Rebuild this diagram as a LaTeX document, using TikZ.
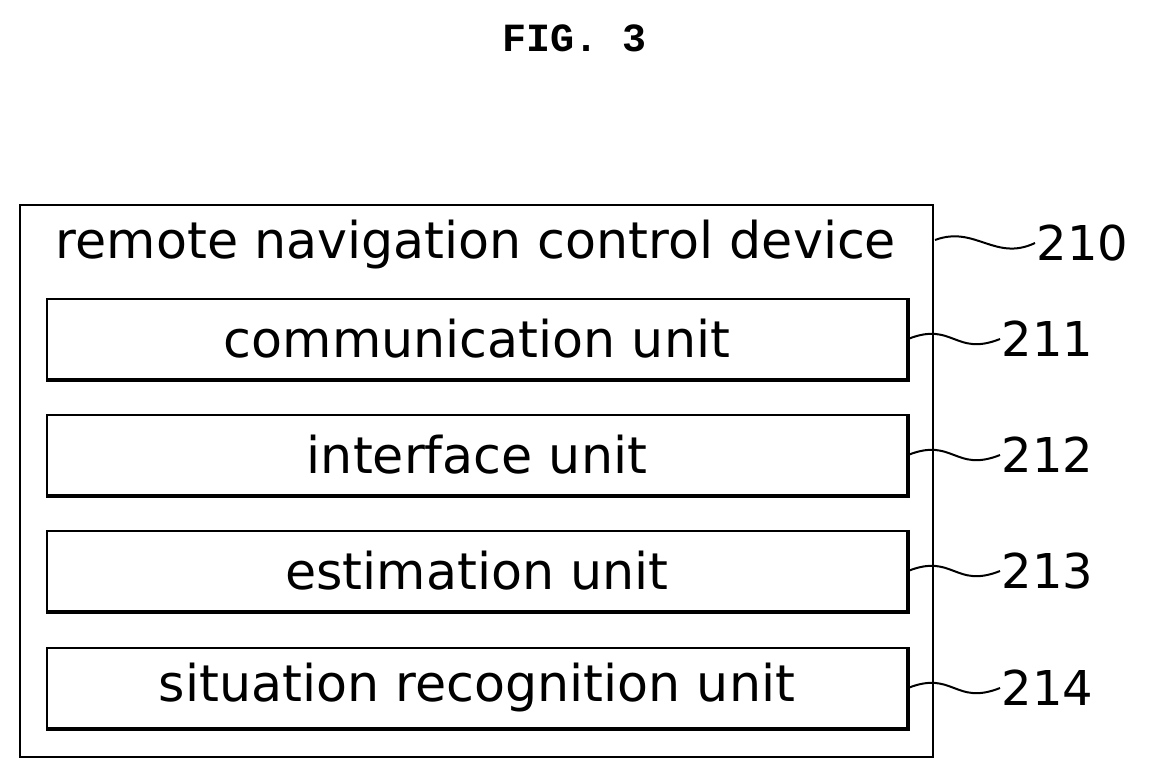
\documentclass[tikz,border=0pt]{standalone}
\usepackage{fontspec}
\setmainfont{DejaVu Sans}
\newfontfamily\figfont{Liberation Mono}
\tikzset{every picture/.style={line width=0.75pt}}
\tikzset{unit/.style={draw,line width=1.5pt,minimum width=645pt,minimum height=60pt,inner sep=0pt,font=\fontsize{38}{40}\selectfont},
  refnum/.style={anchor=west,inner sep=0.75pt,font=\fontsize{36}{38}\selectfont}}
\begin{document}
\begin{tikzpicture}[x=0.75pt,y=0.75pt,yscale=-1,xscale=1]
\useasboundingbox (0,0) rectangle (1150,778);
\node[font=\figfont\bfseries\fontsize{30}{32}\selectfont] (title) at (575,38) {FIG. 3};
% outer device box
\draw[line width=1.5pt] (20,205) -- (933,205) -- (933,757) -- (20,757) -- cycle ;
\node[inner sep=0.75pt,font=\fontsize{38}{40}\selectfont] (dev) at (476,245) {remote navigation control device};
% units
\node[unit] (u1) at (477,339) {communication unit};
\node[unit] (u2) at (477,455) {interface unit};
\node[unit] (u3) at (477,571) {estimation unit};
\node[unit] (u4) at (477,688) {situation recognition unit};
\foreach \n in {1,...,4}{
  \draw[line width=3pt] (u\n.north east) -- (u\n.south east) -- (u\n.south west);
}
% reference numerals
\coordinate (l0) at (935,240);
\node[refnum] (r0) at (1035,243) {210};
\draw[line width=1.5pt] (l0) .. controls (975,225) and (995,262) .. (r0.west);
\node[refnum] (r1) at (1000,339) {211};
\node[refnum] (r2) at (1000,455) {212};
\node[refnum] (r3) at (1000,571) {213};
\node[refnum] (r4) at (1000,688) {214};
\foreach \n in {1,...,4}{
  \draw[line width=1.5pt] (u\n.east) .. controls +(45,-18) and +(-45,18) .. (r\n.west);
}
\end{tikzpicture}
\end{document}
